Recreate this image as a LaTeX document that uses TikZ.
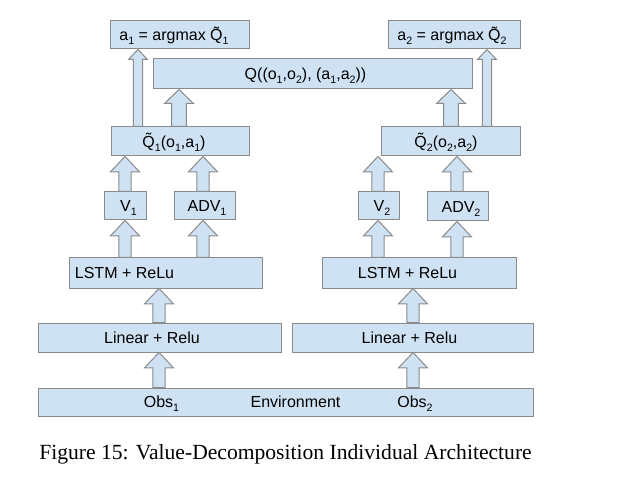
\documentclass[tikz,border=0pt]{standalone}
\usepackage{fontspec}
\setmainfont{Liberation Sans}
\newfontfamily\capfont{Liberation Serif}
\usetikzlibrary{calc}

\definecolor{boxblue}{HTML}{CFE2F3}
\definecolor{boxedge}{HTML}{8A8A8A}

\tikzset{
  blk/.style={draw=boxedge, fill=boxblue, line width=0.75pt, inner sep=0pt},
  txt/.style={inner sep=0pt, text height=8.6pt, text depth=0pt,
              font=\fontsize{12}{14}\selectfont},
  arrowbody/.style={draw=boxedge, fill=boxblue, line width=0.75pt, line join=miter},
}

% low small index
\newcommand{\sbs}[1]{\raisebox{-3pt}{\fontsize{8}{8}\selectfont #1}}

% block arrow: x, from, to, half shaft, half head, head length
\newcommand{\blockup}[6]{%
  \draw[arrowbody] let \p1=(#2.north), \p2=(#3.south), \p3=(#1,0) in
    (\x3-#4,\y1) -- (\x3-#4,\y2-#6) -- (\x3-#5,\y2-#6) -- (\x3,\y2)
    -- (\x3+#5,\y2-#6) -- (\x3+#4,\y2-#6) -- (\x3+#4,\y1) -- cycle;}

\begin{document}
\begin{tikzpicture}[x=0.75pt, y=-0.75pt]
  \useasboundingbox (0,0) rectangle (617,477);
  % boxes: name, centre, size, text x, text
  \foreach \nm/\cx/\cy/\w/\h/\tx/\lbl in {
    aA/179.5/35/139/28/174/{a\sbs{1} = argmax \~{Q}\sbs{1}},
    aB/454/35/132/28/452/{a\sbs{2} = argmax \~{Q}\sbs{2}},
    qq/312.5/74/319/30/305.5/{Q((o\sbs{1},o\sbs{2}), (a\sbs{1},a\sbs{2}))},
    qA/180/141.5/138/29/174/{\~{Q}\sbs{1}(o\sbs{1},a\sbs{1})},
    qB/450.5/141.5/139/29/446/{\~{Q}\sbs{2}(o\sbs{2},a\sbs{2})},
    vA/125/206/42/28/128.5/{V\sbs{1}},
    advA/204.5/206/61/28/207/{ADV\sbs{1}},
    vB/378.5/206/41/28/382/{V\sbs{2}},
    advB/457.5/206.5/61/29/461/{ADV\sbs{2}},
    lstmA/165.5/273/193/30/124.5/{LSTM + ReLu},
    lstmB/419/273/194/30/407.5/{LSTM + ReLu},
    linA/159.5/337.5/243/29/152/{Linear + Relu},
    linB/412.5/337.5/241/29/409.5/{Linear + Relu}}{
    \node[blk, minimum width=\w*0.75pt, minimum height=\h*0.75pt] (\nm) at (\cx,\cy) {};
    \node[txt] (\nm-t) at (\tx,\cy) {\lbl};
  }
  % environment bar
  \node[blk, minimum width=495*0.75pt, minimum height=28*0.75pt] (env) at (285.5,402) {};
  \node[txt] (obsA) at (161.5,402) {Obs\sbs{1}};
  \node[txt] (envlbl) at (295.5,402) {Environment};
  \node[txt] (obsB) at (415,402) {Obs\sbs{2}};

  % arrows
  \foreach \ax/\src/\dst in {159/env/linA, 413/env/linB, 159/linA/lstmA, 413/linB/lstmB,
      125/lstmA/vA, 203/lstmA/advA, 378/lstmB/vB, 457/lstmB/advB,
      125/vA/qA, 203/advA/qA, 378/vB/qB, 457/advB/qB}
    \blockup{\ax}{\src}{\dst}{4.6pt}{10.9pt}{11.5pt};
  \foreach \ax/\src/\dst in {179/qA/qq, 451/qB/qq}
    \blockup{\ax}{\src}{\dst}{5.6pt}{10.9pt}{10.5pt};
  \foreach \ax/\src/\dst in {138/qA/aA, 487/qB/aB}
    \blockup{\ax}{\src}{\dst}{3.4pt}{7.1pt}{7.5pt};

  \node[anchor=base, inner sep=0pt, font=\capfont\fontsize{16.2}{18}\selectfont] (caption)
    at (285.5,459) {Figure 15: Value-Decomposition Individual Architecture};
\end{tikzpicture}
\end{document}
